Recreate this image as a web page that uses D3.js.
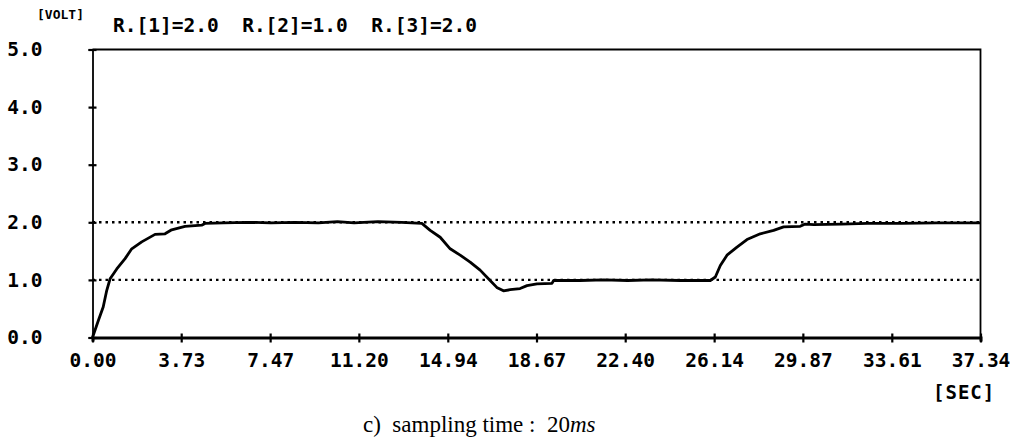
<!DOCTYPE html>
<html>
<head>
<meta charset="utf-8">
<script src="https://cdn.jsdelivr.net/npm/d3@7"></script>
<style>
  body { margin: 0; background: #fff; }
  .mono { font-family: "DejaVu Sans Mono", monospace; font-weight: bold; fill: #000; }
</style>
</head>
<body>
<svg></svg>
<script>
// response: time [sec] and output [volt]
var timeSec = [0, 0.25, 0.45, 0.60, 0.74, 1.02, 1.37, 1.65, 2.07, 2.63, 3.05, 3.33, 3.89, 4.59, 4.73,
  5.5, 6.5, 7.5, 8.5, 9.5, 10.3, 11.0, 12.0, 13.0, 13.85, 14.2, 14.62, 15.04, 15.46, 15.88, 16.30,
  16.72, 17.0, 17.28, 17.56, 17.98, 18.27, 18.69, 19.32, 19.39, 20.5, 21.5, 22.5, 23.5, 24.7, 25.98,
  26.19, 26.4, 26.68, 27.1, 27.52, 28.08, 28.64, 29.06, 29.76, 29.97, 30.33, 31.5, 32.57, 34, 35.5, 37.34];
var voltOut = [0, 0.30, 0.53, 0.82, 1.02, 1.19, 1.37, 1.54, 1.66, 1.79, 1.80, 1.87, 1.93, 1.95, 1.98,
  1.99, 2.0, 1.99, 2.0, 1.99, 2.01, 1.99, 2.01, 2.0, 1.98, 1.86, 1.74, 1.54, 1.43, 1.31, 1.17,
  0.99, 0.87, 0.81, 0.83, 0.85, 0.90, 0.93, 0.94, 0.99, 0.99, 1.0, 0.99, 1.0, 0.99, 0.99,
  1.05, 1.25, 1.43, 1.57, 1.70, 1.80, 1.86, 1.92, 1.93, 1.97, 1.96, 1.97, 1.98, 1.98, 1.99, 1.99];

var xTicks = [0, 3.73, 7.47, 11.20, 14.94, 18.67, 22.40, 26.14, 29.87, 33.61, 37.34];
var yTicks = [0, 1, 2, 3, 4, 5];
var refLevels = [1.0, 2.0];
var headerText = "R.[1]=2.0  R.[2]=1.0  R.[3]=2.0";

var width = 1019, height = 439;

var svg = d3.select("svg")
    .attr("width", width)
    .attr("height", height);

var x = d3.scaleLinear().domain([0, 37.34]).range([92.5, 980.5]);
var y = d3.scaleLinear().domain([0, 5]).range([337.5, 49.5]);

// dotted set-point lines
svg.selectAll(".ref")
    .data(refLevels)
    .enter().append("line")
    .attr("x1", x(0)).attr("x2", x(37.34))
    .attr("y1", d => y(d)).attr("y2", d => y(d))
    .attr("stroke", "#000")
    .attr("stroke-width", 2.4)
    .attr("stroke-dasharray", "2.5,4");

// frame top and right
svg.append("path")
    .attr("d", "M" + x(0) + "," + y(5) + "H" + x(37.34) + "V" + y(0))
    .attr("fill", "none")
    .attr("stroke", "#000")
    .attr("stroke-width", 1.8);

// axes
var xAxis = svg.append("g")
    .attr("transform", "translate(0," + y(0) + ")")
    .call(d3.axisBottom(x).tickValues(xTicks).tickFormat(d3.format(".2f")).tickSizeOuter(0).tickSize(4).tickPadding(12));
xAxis.select(".domain").attr("stroke-width", 3).attr("stroke", "#000");
xAxis.selectAll(".tick line").attr("y1", -4).attr("y2", 5).attr("stroke-width", 2.2).attr("stroke", "#000");
xAxis.selectAll("text")
    .attr("class", "mono")
    .attr("font-size", 19.5);

var yAxis = svg.append("g")
    .attr("transform", "translate(" + x(0) + ",0)")
    .call(d3.axisLeft(y).tickValues(yTicks).tickFormat(d3.format(".1f")).tickSizeOuter(0).tickSize(4).tickPadding(46));
yAxis.select(".domain").attr("stroke-width", 1.8).attr("stroke", "#000");
yAxis.selectAll(".tick line").attr("x1", -4).attr("x2", 4).attr("stroke-width", 2.2).attr("stroke", "#000");
yAxis.selectAll("text")
    .attr("class", "mono")
    .attr("font-size", 19.5);

// response curve
var line = d3.line()
    .x((d, i) => x(timeSec[i]))
    .y(d => y(d));

svg.append("path")
    .datum(voltOut)
    .attr("d", line)
    .attr("fill", "none")
    .attr("stroke", "#000")
    .attr("stroke-width", 2.8)
    .attr("stroke-linejoin", "round");

// labels
svg.append("text").attr("class", "mono")
    .attr("x", 37).attr("y", 19)
    .attr("font-size", 13)
    .text("[VOLT]");
svg.append("text").attr("class", "mono")
    .attr("x", 113).attr("y", 32)
    .attr("font-size", 19.5)
    .style("white-space", "pre")
    .text(headerText);
svg.append("text").attr("class", "mono")
    .attr("x", 933).attr("y", 399)
    .attr("font-size", 19)
    .attr("letter-spacing", 1)
    .text("[SEC]");

var cap = svg.append("text")
    .attr("x", 363).attr("y", 432)
    .attr("font-family", "'Liberation Serif', 'DejaVu Serif', serif")
    .attr("font-size", 23)
    .attr("fill", "#000")
    .style("white-space", "pre");
cap.append("tspan").text("c)  sampling time :  20");
cap.append("tspan").attr("font-style", "italic").text("ms");
</script>
</body>
</html>
